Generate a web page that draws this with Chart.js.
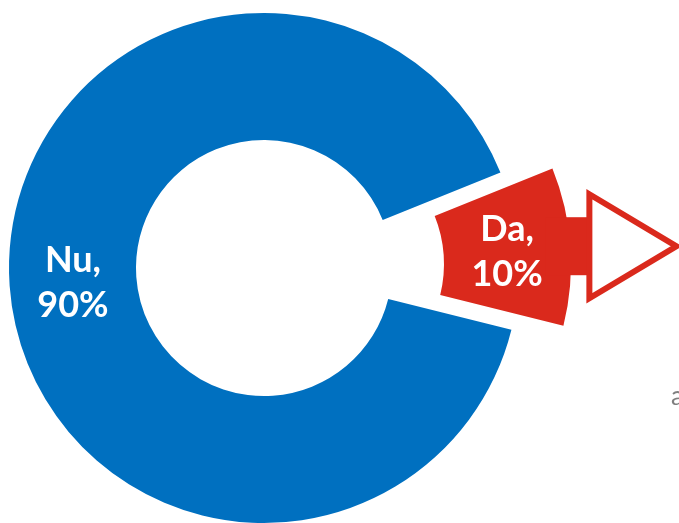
<!DOCTYPE html>
<html>
<head>
<meta charset="utf-8">
<script src="https://cdn.jsdelivr.net/npm/chart.js@4.4.0/dist/chart.umd.min.js"></script>
<style>
html, body { margin: 0; padding: 0; background: #fff; overflow: hidden; width: 679px; height: 523px; }
.wrap { position: absolute; left: -236px; top: -232px; width: 1000px; height: 1000px; }
#note { position: absolute; left: 671px; top: 382px; font: 26px Lato; line-height: 26px; color: #7f7f7f; white-space: nowrap; }
</style>
</head>
<body>
<div class="wrap" id="ringWrap"><canvas id="ringChart" width="1000" height="1000"></canvas></div>
<div class="wrap" id="pullWrap"><canvas id="pullChart" width="1000" height="1000"></canvas></div>
<div id="note">a</div>
<script>
// Answer split
const labels = ['Nu', 'Da'];
const values = [90, 10];
const colors = ['#0070C0', '#DA291C'];
const pulledOut = 1;   // index of the slice that is pulled out of the ring
const pullDistance = 52;

// draws the "Nu, 90%" style labels and the arrow next to the pulled-out slice
const sliceLabels = {
    id: 'sliceLabels',
    afterDatasetsDraw(chart, args, opts) {
        const ctx = chart.ctx;
        const meta = chart.getDatasetMeta(0);
        const total = values.reduce((a, b) => a + b, 0);

        meta.data.forEach((arc, i) => {
            if (i !== opts.show) return;
            const mid = (arc.startAngle + arc.endAngle) / 2;

            if (opts.arrow) {
                const ox = arc.x + Math.cos(mid) * arc.outerRadius;
                const oy = arc.y + Math.sin(mid) * arc.outerRadius;
                const base = ox + 19;
                const tip = base + 87;
                ctx.save();
                ctx.fillStyle = colors[i];
                ctx.fillRect(ox - 25, oy - 29, base - ox + 25, 58);
                ctx.beginPath();
                ctx.moveTo(base, oy - 52);
                ctx.lineTo(tip, oy);
                ctx.lineTo(base, oy + 52);
                ctx.closePath();
                ctx.fillStyle = '#fff';
                ctx.fill();
                ctx.lineWidth = 6;
                ctx.strokeStyle = colors[i];
                ctx.stroke();
                ctx.restore();
            }

            const r = (arc.innerRadius + arc.outerRadius) / 2;
            const x = arc.x + Math.cos(mid) * r;
            const y = arc.y + Math.sin(mid) * r;
            const pct = Math.round(values[i] / total * 100) + '%';
            ctx.save();
            ctx.fillStyle = '#fff';
            ctx.font = 'bold 36px Lato';
            ctx.textAlign = 'center';
            ctx.textBaseline = 'alphabetic';
            ctx.fillText(labels[i] + ',', x, y + 13 - 22.5);
            ctx.fillText(pct, x, y + 13 + 22.5);
            ctx.restore();
        });
    }
};

function makeChart(id, fills, opts) {
    return new Chart(document.getElementById(id), {
        type: 'doughnut',
        data: {
            labels: labels,
            datasets: [{
                data: values,
                backgroundColor: fills,
                borderWidth: 0,
                hoverOffset: 0
            }]
        },
        options: {
            responsive: false,
            animation: false,
            events: [],
            radius: 255,
            cutout: '50.2%',
            rotation: 104,
            layout: { padding: 0 },
            plugins: {
                legend: { display: false },
                tooltip: { enabled: false },
                sliceLabels: opts
            }
        },
        plugins: [sliceLabels]
    });
}

// ring without the pulled-out slice
makeChart('ringChart', colors.map((c, i) => i === pulledOut ? 'rgba(0,0,0,0)' : c), { show: 0, arrow: false });

// the pulled-out slice, same data, drawn on a layer moved along the slice's middle
const pull = makeChart('pullChart', colors.map((c, i) => i === pulledOut ? c : 'rgba(0,0,0,0)'), { show: pulledOut, arrow: true });
const arc = pull.getDatasetMeta(0).data[pulledOut];
const midAngle = (arc.startAngle + arc.endAngle) / 2;
const wrap = document.getElementById('pullWrap');
wrap.style.left = Math.round(-236 + Math.cos(midAngle) * pullDistance) + 'px';
wrap.style.top = Math.round(-232 + Math.sin(midAngle) * pullDistance) + 'px';
</script>
</body>
</html>
